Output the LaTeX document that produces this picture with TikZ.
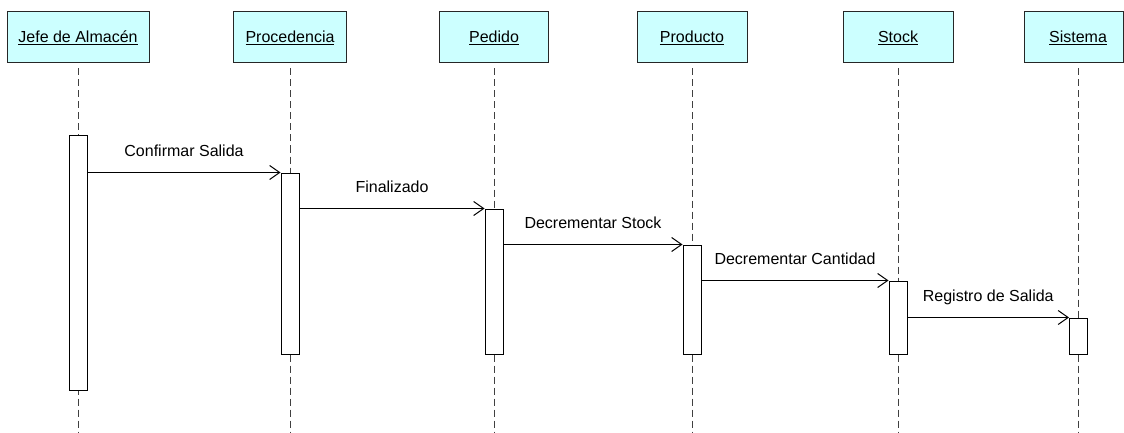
\documentclass[tikz,border=0pt]{standalone}
\usepackage{fontspec}
\setmainfont{Liberation Sans}
\usetikzlibrary{arrows.meta}
\definecolor{hdrfill}{HTML}{CCFFFF}
\definecolor{lifegray}{HTML}{404040}
\tikzset{
  header/.style={draw=black!85, line width=1pt, fill=hdrfill, minimum height=51pt,
    text height=12pt, text depth=1pt, inner sep=0pt, font=\fontsize{16}{19}\selectfont},
  lifeline/.style={draw=lifegray, line width=1pt, dash pattern=on 7pt off 4pt},
  actbar/.style={draw=black, line width=1pt, fill=white, minimum width=18pt, inner sep=0pt},
  msg/.style={draw=black, line width=1pt, -{Straight Barb[length=10pt,width=14pt,line width=1pt]}},
  msglabel/.style={anchor=base, yshift=16pt, font=\fontsize{16}{19}\selectfont, inner sep=0pt}
}
\begin{document}
\begin{tikzpicture}[x=1pt,y=-1pt]
\useasboundingbox (0,0) rectangle (1124,433);
\clip (0,0) rectangle (1124,433);
\fill[white] (0,0) rectangle (1124,433);
% headers
\node[header, minimum width=142pt] (h1) at (78,37.5) {\underline{Jefe de Almacén}};
\node[header, minimum width=113pt] (h2) at (290,37.5) {\underline{Procedencia}};
\node[header, minimum width=109pt] (h3) at (494,37.5) {\underline{Pedido}};
\node[header, minimum width=110pt] (h4) at (692,37.5) {\underline{Producto}};
\node[header, minimum width=110pt] (h5) at (898,37.5) {\underline{Stock}};
\node[header, minimum width=99pt] (h6) at (1073.5,37.5) {\hspace*{9pt}\underline{Sistema}};
% lifeline ends
\coordinate (e1) at (78,433);
\coordinate (e2) at (290,433);
\coordinate (e3) at (494,433);
\coordinate (e4) at (692,433);
\coordinate (e5) at (898,433);
\coordinate (e6) at (1078,433);
\draw[lifeline] ([yshift=-5pt]h1.south) -- (e1);
\draw[lifeline] ([yshift=-5pt]h2.south) -- (e2);
\draw[lifeline] ([yshift=-5pt]h3.south) -- (e3);
\draw[lifeline] ([yshift=-5pt]h4.south) -- (e4);
\draw[lifeline] ([yshift=-5pt]h5.south) -- (e5);
\draw[lifeline] ([xshift=4.5pt,yshift=-5pt]h6.south) -- (e6);
% activation bars
\node[actbar, minimum height=254pt] (b1) at (78,263) {};
\node[actbar, minimum height=181pt] (b2) at (290,263.5) {};
\node[actbar, minimum height=145pt] (b3) at (494,281.5) {};
\node[actbar, minimum height=109pt] (b4) at (692,299.5) {};
\node[actbar, minimum height=73pt] (b5) at (898,317.5) {};
\node[actbar, minimum height=36pt] (b6) at (1078.5,336) {};
% messages
\draw[msg] (b1.east |- b2.north) -- node[msglabel] {Confirmar Salida} (b2.north west);
\draw[msg] (b2.east |- b3.north) -- node[msglabel] {Finalizado} (b3.north west);
\draw[msg] (b3.east |- b4.north) -- node[msglabel] {Decrementar Stock} (b4.north west);
\draw[msg] (b4.east |- b5.north) -- node[msglabel] {Decrementar Cantidad} (b5.north west);
\draw[msg] (b5.east |- b6.north) -- node[msglabel] {Registro de Salida} (b6.north west);
\end{tikzpicture}
\end{document}
